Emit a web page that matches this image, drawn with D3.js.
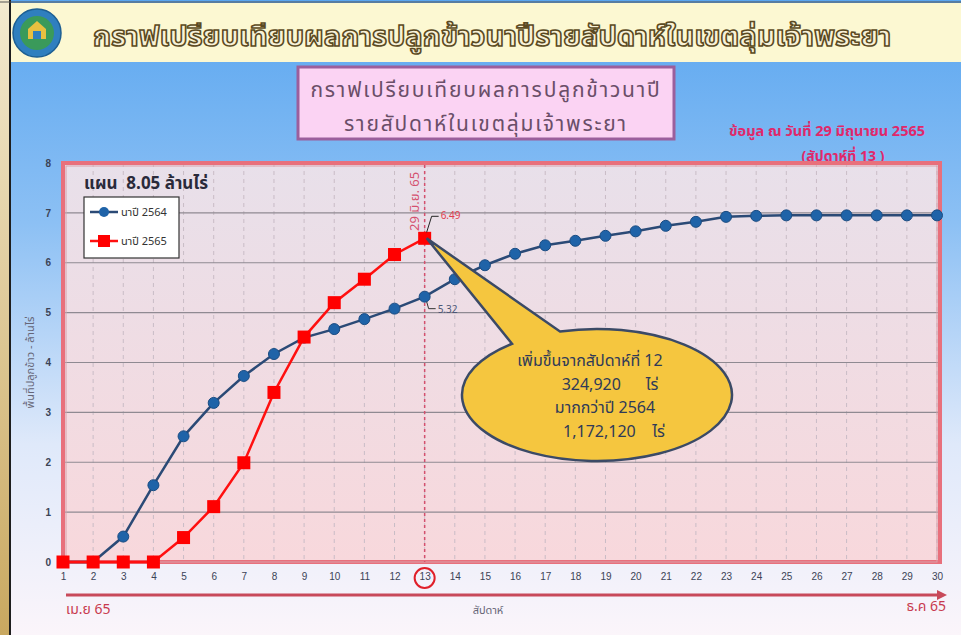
<!DOCTYPE html>
<html>
<head>
<meta charset="utf-8" />
<title>กราฟเปรียบเทียบผลการปลูกข้าวนาปี</title>
<script src="https://d3js.org/d3.v7.min.js"></script>
<style>
    body { margin: 0; background: #fff; }
    svg { display: block; font-family: Tahoma, "Noto Sans Thai", "Loma", "Garuda", "Noto Sans", sans-serif; }
    .tick text { fill: #3b4356; font-size: 10px; }
</style>
</head>
<body>
<div id="graphic"></div>
<script>
// weeks 1..30
var weeks = d3.range(1, 31);
var tickLabels = [0, 1, 2, 3, 4, 5, 6, 7, 8];
var seriesNames = ["นาปี 2564", "นาปี 2565"];
// million rai, planted cumulative
var rice2564 = [0, 0, 0.51, 1.54, 2.52, 3.19, 3.73, 4.17, 4.50, 4.67, 4.87, 5.08, 5.32,
                5.67, 5.95, 6.18, 6.35, 6.44, 6.54, 6.63, 6.74, 6.82, 6.92, 6.94,
                6.95, 6.95, 6.95, 6.95, 6.95, 6.95];
var rice2565 = [0, 0, 0, 0, 0.49, 1.11, 1.99, 3.40, 4.51, 5.20, 5.67, 6.165, 6.49];
var currentWeek = 13;

var W = 961, H = 635;
var svg = d3.select("#graphic").append("svg")
    .attr("width", W).attr("height", H);

var defs = svg.append("defs");
var bg = defs.append("linearGradient").attr("id", "bg").attr("x1", 0).attr("y1", 0).attr("x2", 0).attr("y2", 1);
bg.append("stop").attr("offset", "0").attr("stop-color", "#5aa6f0");
bg.append("stop").attr("offset", "0.35").attr("stop-color", "#8cc0f4");
bg.append("stop").attr("offset", "0.7").attr("stop-color", "#dfe9fa");
bg.append("stop").attr("offset", "1").attr("stop-color", "#fbf5fa");
var pg = defs.append("linearGradient").attr("id", "plotbg").attr("x1", 0).attr("y1", 0).attr("x2", 0).attr("y2", 1);
pg.append("stop").attr("offset", "0").attr("stop-color", "#e8e0ea");
pg.append("stop").attr("offset", "1").attr("stop-color", "#f8d8dc");
var lg = defs.append("linearGradient").attr("id", "leftbar").attr("x1", 0).attr("y1", 0).attr("x2", 0).attr("y2", 1);
lg.append("stop").attr("offset", "0").attr("stop-color", "#f3ead0");
lg.append("stop").attr("offset", "1").attr("stop-color", "#c9a860");

// page background
svg.append("rect").attr("x", 0).attr("y", 0).attr("width", W).attr("height", H).attr("fill", "url(#bg)");
svg.append("rect").attr("x", 0).attr("y", 0).attr("width", 9).attr("height", H).attr("fill", "url(#leftbar)");
svg.append("rect").attr("x", 9).attr("y", 0).attr("width", 2).attr("height", H).attr("fill", "#1e1e1e");

// header band
svg.append("rect").attr("x", 11).attr("y", 3).attr("width", W - 11).attr("height", 59).attr("fill", "#fcf8d2");
svg.append("line").attr("x1", 0).attr("x2", W).attr("y1", 2).attr("y2", 2).attr("stroke", "#555").attr("stroke-width", 1);

// logo (simplified emblem)
var logo = svg.append("g").attr("transform", "translate(37,33)");
logo.append("circle").attr("r", 24).attr("fill", "#2f7fbf").attr("stroke", "#1d5f93").attr("stroke-width", 1.5);
logo.append("circle").attr("r", 17).attr("fill", "#3a9a5a");
logo.append("path").attr("d", "M-9,6 L-9,-4 L0,-12 L9,-4 L9,6 Z").attr("fill", "#e8c040");
logo.append("rect").attr("x", -4).attr("y", -2).attr("width", 8).attr("height", 8).attr("fill", "#2f7fbf");

svg.append("text")
    .attr("x", 492).attr("y", 46)
    .attr("text-anchor", "middle")
    .attr("font-size", 29).attr("font-weight", "bold")
    .attr("fill", "#f8f2d8").attr("stroke", "#5b4a22").attr("stroke-width", 1.6)
    .text("กราฟเปรียบเทียบผลการปลูกข้าวนาปีรายสัปดาห์ในเขตลุ่มเจ้าพระยา");

// title box
svg.append("rect").attr("x", 298).attr("y", 67).attr("width", 376).attr("height", 72)
    .attr("fill", "#fbd3f3").attr("stroke", "#9b5f9c").attr("stroke-width", 3);
svg.append("text").attr("x", 486).attr("y", 97).attr("text-anchor", "middle")
    .attr("font-size", 21).attr("letter-spacing", 1.8).attr("fill", "#6a4e68").text("กราฟเปรียบเทียบผลการปลูกข้าวนาปี");
svg.append("text").attr("x", 486).attr("y", 131).attr("text-anchor", "middle")
    .attr("font-size", 21).attr("letter-spacing", 1.8).attr("fill", "#6a4e68").text("รายสัปดาห์ในเขตลุ่มเจ้าพระยา");

// data date note
svg.append("text").attr("x", 827).attr("y", 136).attr("text-anchor", "middle")
    .attr("font-size", 14.5).attr("font-weight", "bold").attr("fill", "#e0286a")
    .text("ข้อมูล ณ วันที่ 29 มิถุนายน 2565");
svg.append("text").attr("x", 843).attr("y", 161).attr("text-anchor", "middle")
    .attr("font-size", 14).attr("font-weight", "bold").attr("fill", "#e0286a")
    .text("(สัปดาห์ที่ 13 )");

// scales
var x = d3.scaleLinear().domain([1, 30]).range([63, 937]);
var y = d3.scaleLinear().domain([0, 8]).range([562, 163]);

// plot panel
var x0 = x(1), x1 = x(30) + 3, yT = y(8), yB = y(0);
svg.append("rect").attr("x", x0).attr("y", yT).attr("width", x1 - x0).attr("height", yB - yT)
    .attr("fill", "url(#plotbg)");

// vertical dashed grid
svg.append("g").selectAll("line").data(weeks.slice(1)).join("line")
    .attr("x1", function (d) { return x(d); }).attr("x2", function (d) { return x(d); })
    .attr("y1", yT).attr("y2", yB)
    .attr("stroke", "#c9bcc6").attr("stroke-width", 1).attr("stroke-dasharray", "4,4");

// horizontal grid
svg.append("g").selectAll("line").data(tickLabels.slice(1, 8)).join("line")
    .attr("x1", x0).attr("x2", x1)
    .attr("y1", function (d) { return y(d); }).attr("y2", function (d) { return y(d); })
    .attr("stroke", "#8f8a92").attr("stroke-width", 1.2);

// panel frame
svg.append("rect").attr("x", x0).attr("y", yT).attr("width", x1 - x0).attr("height", yB - yT)
    .attr("fill", "none").attr("stroke", "#e8707c").attr("stroke-width", 4);
svg.append("rect").attr("x", x0 + 3).attr("y", yT + 3).attr("width", x1 - x0 - 6).attr("height", yB - yT - 3)
    .attr("fill", "none").attr("stroke", "#d9a0aa").attr("stroke-width", 1);

// axes
var yAxis = d3.axisLeft(y).tickValues(tickLabels).tickSize(0).tickPadding(12).tickFormat(d3.format("d"));
var gy = svg.append("g").attr("transform", "translate(" + x0 + ",0)").call(yAxis);
gy.select(".domain").remove();
gy.selectAll(".tick text").attr("font-weight", "bold");

var xAxis = d3.axisBottom(x).tickValues(weeks).tickSize(0).tickPadding(11).tickFormat(d3.format("d"));
var gx = svg.append("g").attr("transform", "translate(0," + yB + ")").call(xAxis);
gx.select(".domain").remove();
gx.selectAll(".tick text").attr("font-size", 11);

svg.append("circle").attr("cx", x(currentWeek)).attr("cy", yB + 16).attr("r", 10)
    .attr("fill", "none").attr("stroke", "#e0202a").attr("stroke-width", 2);

// axis titles
svg.append("text").attr("transform", "translate(34," + y(4) + ") rotate(-90)")
    .attr("text-anchor", "middle").attr("font-size", 11).attr("fill", "#667")
    .text("พื้นที่ปลูกข้าว - ล้านไร่");
svg.append("text").attr("x", 488).attr("y", 614).attr("text-anchor", "middle")
    .attr("font-size", 11).attr("fill", "#667").text("สัปดาห์");

// season arrow
svg.append("line").attr("x1", x(1) + 3).attr("x2", x(30) + 2).attr("y1", 595).attr("y2", 595)
    .attr("stroke", "#c84a5a").attr("stroke-width", 3);
svg.append("path").attr("d", "M" + (x(30) + 10) + ",595 l-10,-5 l0,10 z").attr("fill", "#c84a5a");
svg.append("text").attr("x", x(1) + 3).attr("y", 614).attr("font-size", 14).attr("fill", "#c83a4e").text("เม.ย 65");
svg.append("text").attr("x", x(30) + 9).attr("y", 611).attr("text-anchor", "end")
    .attr("font-size", 14).attr("fill", "#c83a4e").text("ธ.ค 65");

// current week marker
svg.append("line").attr("x1", x(currentWeek)).attr("x2", x(currentWeek)).attr("y1", yT + 2).attr("y2", yB)
    .attr("stroke", "#d4506e").attr("stroke-width", 1.5).attr("stroke-dasharray", "3,3");
svg.append("text").attr("transform", "translate(" + (x(currentWeek) - 6) + ",231) rotate(-90)")
    .attr("font-size", 13).attr("fill", "#d4506e").text("29 มิ.ย. 65");

// series lines
var line = d3.line()
    .x(function (d, i) { return x(weeks[i]); })
    .y(function (d) { return y(d); });

svg.append("path").datum(rice2564).attr("d", line)
    .attr("fill", "none").attr("stroke", "#2b4a76").attr("stroke-width", 2.5);
svg.append("g").selectAll("circle").data(rice2564).join("circle")
    .attr("cx", function (d, i) { return x(weeks[i]); })
    .attr("cy", function (d) { return y(d); })
    .attr("r", 5.5).attr("fill", "#1f63a8").attr("stroke", "#1a4c82").attr("stroke-width", 1);

svg.append("path").datum(rice2565).attr("d", line)
    .attr("fill", "none").attr("stroke", "#ff1010").attr("stroke-width", 2.5);
svg.append("g").selectAll("rect").data(rice2565).join("rect")
    .attr("x", function (d, i) { return x(weeks[i]) - 6.5; })
    .attr("y", function (d) { return y(d) - 6.5; })
    .attr("width", 13).attr("height", 13).attr("fill", "#ff0000");

// value labels for current week
var cx = x(currentWeek), cyR = y(rice2565[currentWeek - 1]), cyB = y(rice2564[currentWeek - 1]);
svg.append("path").attr("d", "M" + (cx + 2) + "," + (cyR - 6) + " L" + (cx + 7) + "," + (cyR - 22) + " l7,0")
    .attr("fill", "none").attr("stroke", "#222").attr("stroke-width", 1);
svg.append("text").attr("x", cx + 16).attr("y", cyR - 19).attr("font-size", 10).attr("fill", "#e0404e")
    .text(d3.format(".2f")(rice2565[currentWeek - 1]));
svg.append("path").attr("d", "M" + (cx + 2) + "," + (cyB + 5) + " L" + (cx + 4) + "," + (cyB + 12) + " l7,0")
    .attr("fill", "none").attr("stroke", "#333").attr("stroke-width", 1);
svg.append("text").attr("x", cx + 13).attr("y", cyB + 16).attr("font-size", 10).attr("fill", "#4a5676")
    .text(d3.format(".2f")(rice2564[currentWeek - 1]));

// callout bubble
var ecx = 597, ecy = 395, erx = 135, ery = 66;
function onEllipse(px, top) {
    var c = (px - ecx) / erx, s = Math.sqrt(1 - c * c);
    return [px, top ? ecy - ery * s : ecy + ery * s];
}
var A = onEllipse(512, true), B = onEllipse(560, true);
svg.append("path")
    .attr("d", "M" + A + " L" + (cx + 2) + "," + cyR + " L" + B +
        " A" + erx + " " + ery + " 0 1 1 " + A + " Z")
    .attr("fill", "#f5c63f").attr("stroke", "#3b4a66").attr("stroke-width", 2.5);

var calloutLines = [
    { t: "เพิ่มขึ้นจากสัปดาห์ที่ 12", x: 590, y: 366 },
    { t: "324,920      ไร่", x: 610, y: 390 },
    { t: "มากกว่าปี 2564", x: 605, y: 413 },
    { t: "1,172,120    ไร่", x: 614, y: 437 }
];
svg.append("g").selectAll("text").data(calloutLines).join("text")
    .attr("x", function (d) { return d.x; }).attr("y", function (d) { return d.y; })
    .attr("text-anchor", "middle").attr("font-size", 16).attr("fill", "#2f3a58")
    .style("white-space", "pre")
    .text(function (d) { return d.t; });

// plan label and legend
svg.append("text").attr("x", 84).attr("y", 189).attr("font-size", 17).attr("font-weight", "bold")
    .attr("fill", "#2a2a3a").style("white-space", "pre").text("แผน  8.05 ล้านไร่");
svg.append("rect").attr("x", 84).attr("y", 197).attr("width", 95).attr("height", 61)
    .attr("fill", "#fff").attr("stroke", "#333").attr("stroke-width", 1.2);
var leg = svg.append("g");
leg.append("line").attr("x1", 90).attr("x2", 118).attr("y1", 212).attr("y2", 212).attr("stroke", "#2b4a76").attr("stroke-width", 2.5);
leg.append("circle").attr("cx", 104).attr("cy", 212).attr("r", 5).attr("fill", "#1f63a8");
leg.append("line").attr("x1", 90).attr("x2", 118).attr("y1", 241).attr("y2", 241).attr("stroke", "#ff1010").attr("stroke-width", 2.5);
leg.append("rect").attr("x", 98).attr("y", 235).attr("width", 12).attr("height", 12).attr("fill", "#ff0000");
leg.selectAll("text").data(seriesNames).join("text")
    .attr("x", 121).attr("y", function (d, i) { return 216 + i * 29; })
    .attr("font-size", 11).attr("fill", "#333").text(function (d) { return d; });
</script>
</body>
</html>
